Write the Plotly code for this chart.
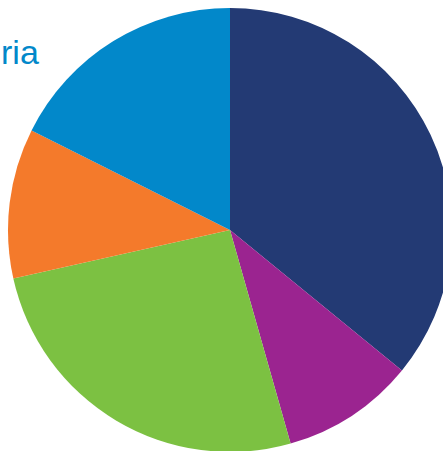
import plotly.graph_objects as go

labels = ["Navy", "Purple", "Green", "Orange", "Blue"]
values = [35.9, 9.7, 25.9, 10.9, 17.6]
colors = ["#233a74", "#9b2490", "#7cc142", "#f47a2b", "#0288ca"]
label_text = "ria"

W, H = 460, 460
cx, cy, r = 230, 230, 222

fig = go.Figure(go.Pie(
    labels=labels,
    values=values,
    marker=dict(colors=colors, line=dict(width=0)),
    sort=False,
    direction="clockwise",
    rotation=0,
    textinfo="none",
    hoverinfo="none",
    showlegend=False,
    domain=dict(x=[(cx - r) / W, (cx + r) / W], y=[(H - cy - r) / H, (H - cy + r) / H]),
))

fig.add_annotation(
    text=label_text, xref="paper", yref="paper",
    x=-1 / W, y=(H - 52) / H, xanchor="left", yanchor="middle",
    showarrow=False,
    font=dict(family="Liberation Sans, Arial, sans-serif", size=34, color="#0288ca"),
)

fig.update_layout(
    width=W, height=H,
    margin=dict(l=0, r=0, t=0, b=0),
    paper_bgcolor="white", plot_bgcolor="white",
)

fig.write_html(
    "out.html",
    post_script="document.body.style.margin='0';document.body.style.overflow='hidden';document.documentElement.style.overflow='hidden';",
)
